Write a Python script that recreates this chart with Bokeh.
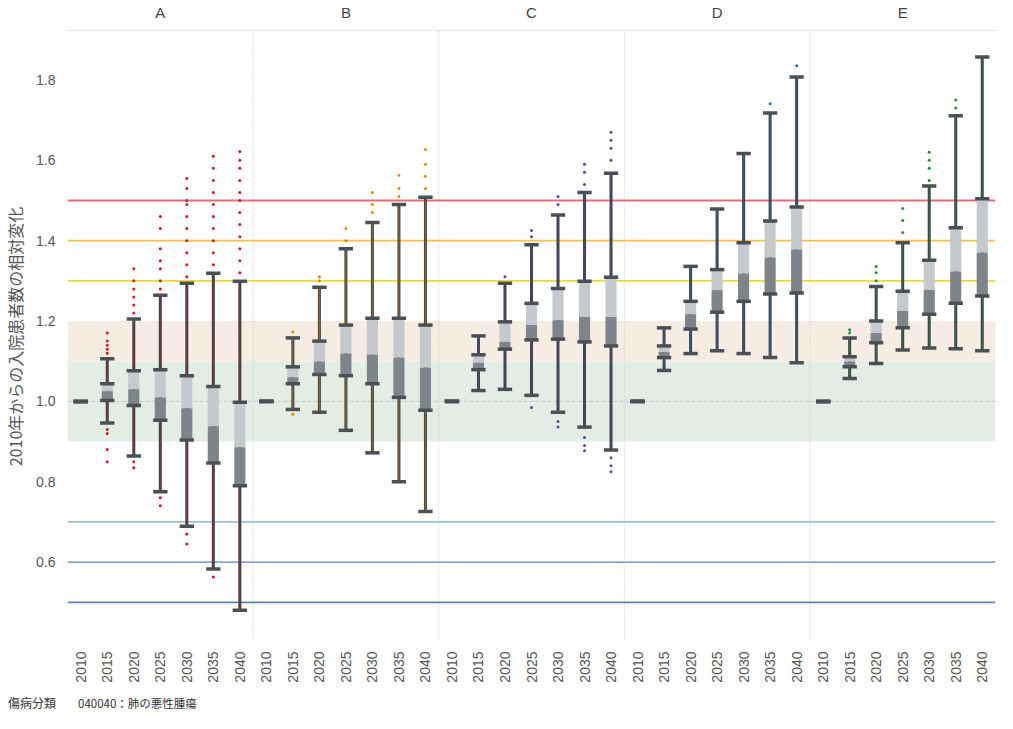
import math
from bokeh.plotting import figure
from bokeh.layouts import column
from bokeh.models import (ColumnDataSource, FixedTicker, LinearAxis, Span, BoxAnnotation,
                          Range1d, PrintfTickFormatter, Div)
from bokeh.embed import file_html
from bokeh.resources import INLINE

# ---------------- data ----------------
panels = ["A", "B", "C", "D", "E"]
years = ["2010", "2015", "2020", "2025", "2030", "2035", "2040"]
panel_colors = ["#c81e1e", "#e08a00", "#5a4a9c", "#1f74b0", "#1f8f35"]

# whisker low / Q1 / median / Q3 / whisker high, per panel (7 years each)
low_A = [1.0, 0.946, 0.864, 0.775, 0.689, 0.583, 0.480]
q1_A = [1.0, 1.002, 0.990, 0.953, 0.904, 0.847, 0.790]
med_A = [1.0, 1.025, 1.030, 1.010, 0.983, 0.938, 0.886]
q3_A = [1.0, 1.044, 1.076, 1.079, 1.064, 1.037, 0.998]
high_A = [1.0, 1.106, 1.205, 1.264, 1.294, 1.319, 1.299]

low_B = [1.0, 0.980, 0.973, 0.928, 0.872, 0.800, 0.726]
q1_B = [1.0, 1.044, 1.067, 1.064, 1.044, 1.010, 0.978]
med_B = [1.0, 1.060, 1.099, 1.119, 1.116, 1.109, 1.084]
q3_B = [1.0, 1.086, 1.150, 1.190, 1.207, 1.207, 1.190]
high_B = [1.0, 1.158, 1.284, 1.380, 1.445, 1.490, 1.508]

low_C = [1.0, 1.027, 1.030, 1.015, 0.973, 0.936, 0.879]
q1_C = [1.0, 1.079, 1.130, 1.153, 1.155, 1.148, 1.138]
med_C = [1.0, 1.096, 1.148, 1.190, 1.202, 1.210, 1.210]
q3_C = [1.0, 1.116, 1.198, 1.244, 1.281, 1.299, 1.309]
high_C = [1.0, 1.163, 1.294, 1.390, 1.464, 1.520, 1.568]

low_D = [1.0, 1.077, 1.119, 1.126, 1.119, 1.109, 1.096]
q1_D = [1.0, 1.109, 1.180, 1.222, 1.249, 1.267, 1.270]
med_D = [1.0, 1.123, 1.217, 1.277, 1.318, 1.358, 1.378]
q3_D = [1.0, 1.138, 1.249, 1.328, 1.395, 1.449, 1.484]
high_D = [1.0, 1.183, 1.336, 1.479, 1.617, 1.718, 1.807]

low_E = [1.0, 1.057, 1.094, 1.128, 1.133, 1.131, 1.126]
q1_E = [1.0, 1.086, 1.146, 1.183, 1.217, 1.244, 1.262]
med_E = [1.0, 1.099, 1.170, 1.225, 1.277, 1.323, 1.370]
q3_E = [1.0, 1.111, 1.200, 1.274, 1.351, 1.432, 1.504]
high_E = [1.0, 1.158, 1.286, 1.395, 1.536, 1.711, 1.857]

# outlying points beyond the whiskers, per panel and year
out_A = [[], [1.12, 1.13, 1.14, 1.15, 1.17, 0.93, 0.92, 0.88, 0.85],
         [1.22, 1.24, 1.26, 1.28, 1.30, 1.33, 0.85, 0.835],
         [1.28, 1.30, 1.33, 1.35, 1.38, 1.43, 1.46, 0.76, 0.74],
         [1.31, 1.34, 1.37, 1.40, 1.43, 1.46, 1.49, 1.50, 1.53, 1.555, 0.67, 0.645],
         [1.34, 1.37, 1.40, 1.43, 1.46, 1.49, 1.52, 1.55, 1.58, 1.61, 0.563],
         [1.32, 1.35, 1.38, 1.41, 1.44, 1.47, 1.50, 1.52, 1.55, 1.58, 1.60, 1.622]]
out_B = [[], [1.173, 0.968], [1.30, 1.31], [1.40, 1.43], [1.47, 1.49, 1.52],
         [1.51, 1.53, 1.563], [1.53, 1.56, 1.59, 1.627]]
out_C = [[], [], [1.31], [1.41, 1.425, 0.985], [1.49, 1.51, 0.95, 0.936],
         [1.54, 1.57, 1.59, 0.91, 0.89, 0.877], [1.60, 1.63, 1.65, 1.67, 0.86, 0.84, 0.825]]
out_D = [[], [], [], [], [], [1.741], [1.835]]
out_E = [[], [1.17, 1.178], [1.30, 1.32, 1.336], [1.42, 1.45, 1.48],
         [1.55, 1.58, 1.60, 1.62], [1.73, 1.75], []]

# reference lines and bands
ref_levels = [1.5, 1.4, 1.3, 0.7, 0.6, 0.5]
ref_colors = ["#d4646c", "#e8b84e", "#e6d23e", "#93b5da", "#7a9dca", "#5b72a8"]
band_ranges = [(1.1, 1.2), (0.9, 1.1)]
band_colors = ["#f6ece2", "#e2eee5"]

y_ticks = [0.6, 0.8, 1.0, 1.2, 1.4, 1.6, 1.8]
y_label = "2010年からの入院患者数の相対変化"
footer_key = "傷病分類"
footer_value = "040040：肺の悪性腫瘍"

lows = [low_A, low_B, low_C, low_D, low_E]
q1s = [q1_A, q1_B, q1_C, q1_D, q1_E]
meds = [med_A, med_B, med_C, med_D, med_E]
q3s = [q3_A, q3_B, q3_C, q3_D, q3_E]
highs = [high_A, high_B, high_C, high_D, high_E]
outs = [out_A, out_B, out_C, out_D, out_E]

ny = len(years)
npan = len(panels)

# ---------------- build sources ----------------
xs, lo, q1, md, q3, hi, col = [], [], [], [], [], [], []
ox, oy, oc = [], [], []
for p_i in range(npan):
    for y_i in range(ny):
        x = p_i * ny + y_i + 0.5
        xs.append(x)
        lo.append(lows[p_i][y_i]); q1.append(q1s[p_i][y_i]); md.append(meds[p_i][y_i])
        q3.append(q3s[p_i][y_i]); hi.append(highs[p_i][y_i]); col.append(panel_colors[p_i])
        for v in outs[p_i][y_i]:
            ox.append(x); oy.append(v); oc.append(panel_colors[p_i])

cap_w = 0.27
box_w = 0.42
src = ColumnDataSource(dict(x=xs, lo=lo, q1=q1, md=md, q3=q3, hi=hi, col=col,
                            xl=[x - cap_w for x in xs], xr=[x + cap_w for x in xs]))
osrc = ColumnDataSource(dict(x=ox, y=oy, c=oc))

FONT = "Liberation Sans"
JFONT = "Noto Sans CJK JP"

p = figure(width=997, height=686, output_backend="svg", toolbar_location=None,
           x_range=Range1d(0, npan * ny), y_range=Range1d(0.40, 1.923),
           min_border_left=58, min_border_right=2, min_border_top=25, min_border_bottom=44,
           x_axis_type=None, y_axis_type=None)
p.outline_line_color = None
p.background_fill_color = "white"
p.xgrid.visible = False
p.ygrid.visible = False

# bands
for (b0, b1), bc in zip(band_ranges, band_colors):
    p.add_layout(BoxAnnotation(bottom=b0, top=b1, fill_color=bc, fill_alpha=1.0,
                               line_color=None, level="underlay"))
p.add_layout(Span(location=1.0, dimension="width", line_color="#c9c9c9",
                  line_dash="4 2", line_width=1, level="underlay"))
# panel dividers
for k in range(1, npan):
    p.add_layout(Span(location=k * ny, dimension="height", line_color="#c4c4c4",
                      line_dash="1 2", line_width=1, level="underlay"))
# reference lines
for lv, lc in zip(ref_levels, ref_colors):
    p.add_layout(Span(location=lv, dimension="width", line_color=lc,
                      line_width=1.8, line_alpha=0.9, level="underlay"))

# whiskers
p.segment(x0="x", y0="lo", x1="x", y1="hi", source=src, line_color="#3c4449", line_width=3)
p.segment(x0="x", y0="lo", x1="x", y1="hi", source=src, line_color="col", line_width=1.2,
          line_alpha=0.5)
# boxes
p.vbar(x="x", width=box_w, bottom="md", top="q3", source=src, fill_color="#c3c9cc",
       line_color=None)
p.vbar(x="x", width=box_w, bottom="q1", top="md", source=src, fill_color="#7d858a",
       line_color=None)
# caps and box edges
for key in ["lo", "hi", "q1", "q3"]:
    p.segment(x0="xl", y0=key, x1="xr", y1=key, source=src, line_color="#4a5055",
              line_width=3.5)
# outliers
p.scatter(x="x", y="y", source=osrc, size=3, color="c", line_color=None)

# axes
ticks_x = [p_i * ny + y_i + 0.5 for p_i in range(npan) for y_i in range(ny)]
xaxis = LinearAxis(ticker=FixedTicker(ticks=ticks_x, minor_ticks=[]))
xaxis.major_label_overrides = {t: years[i % ny] for i, t in enumerate(ticks_x)}
xaxis.major_label_orientation = math.pi / 2
xaxis.major_label_text_font = FONT
xaxis.major_label_text_font_size = "14px"
xaxis.major_label_text_color = "#555555"
xaxis.major_label_standoff = 3
xaxis.axis_line_color = None
xaxis.major_tick_line_color = None
xaxis.minor_tick_line_color = None
p.add_layout(xaxis, "below")

centers = [p_i * ny + ny / 2 for p_i in range(npan)]
top_axis = LinearAxis(ticker=FixedTicker(ticks=centers, minor_ticks=[]))
top_axis.major_label_overrides = {c: panels[i] for i, c in enumerate(centers)}
top_axis.major_label_text_font = FONT
top_axis.major_label_text_font_size = "15px"
top_axis.major_label_text_color = "#444444"
top_axis.major_label_standoff = 4
top_axis.axis_line_color = "#c4c4c4"
top_axis.axis_line_dash = "1 2"
top_axis.major_tick_line_color = None
top_axis.minor_tick_line_color = None
p.add_layout(top_axis, "above")

yaxis = LinearAxis(ticker=FixedTicker(ticks=y_ticks, minor_ticks=[]),
                   formatter=PrintfTickFormatter(format="%.1f"))
yaxis.axis_label = y_label
yaxis.axis_label_text_font = JFONT
yaxis.axis_label_text_font_size = "16px"
yaxis.axis_label_text_font_style = "normal"
yaxis.axis_label_text_color = "#555555"
yaxis.axis_label_standoff = 6
yaxis.major_label_text_font = FONT
yaxis.major_label_text_font_size = "14px"
yaxis.major_label_text_color = "#555555"
yaxis.major_label_standoff = 6
yaxis.axis_line_color = None
yaxis.major_tick_line_color = None
yaxis.minor_tick_line_color = None
p.add_layout(yaxis, "left")

# footer
footer = Div(
    text=(f'<span style="font-family:\'{JFONT}\';font-size:12px;color:#333;">{footer_key}</span>'
          f'<span style="font-family:\'{JFONT}\';font-size:11.5px;color:#333;'
          f'margin-left:22px;">{footer_value}</span>'),
    width=989, height=14, margin=(10, 0, 0, 8),
    styles={"line-height": "14px", "white-space": "nowrap"})

open("out.html", "w").write(file_html(column(p, footer, spacing=0), INLINE))
